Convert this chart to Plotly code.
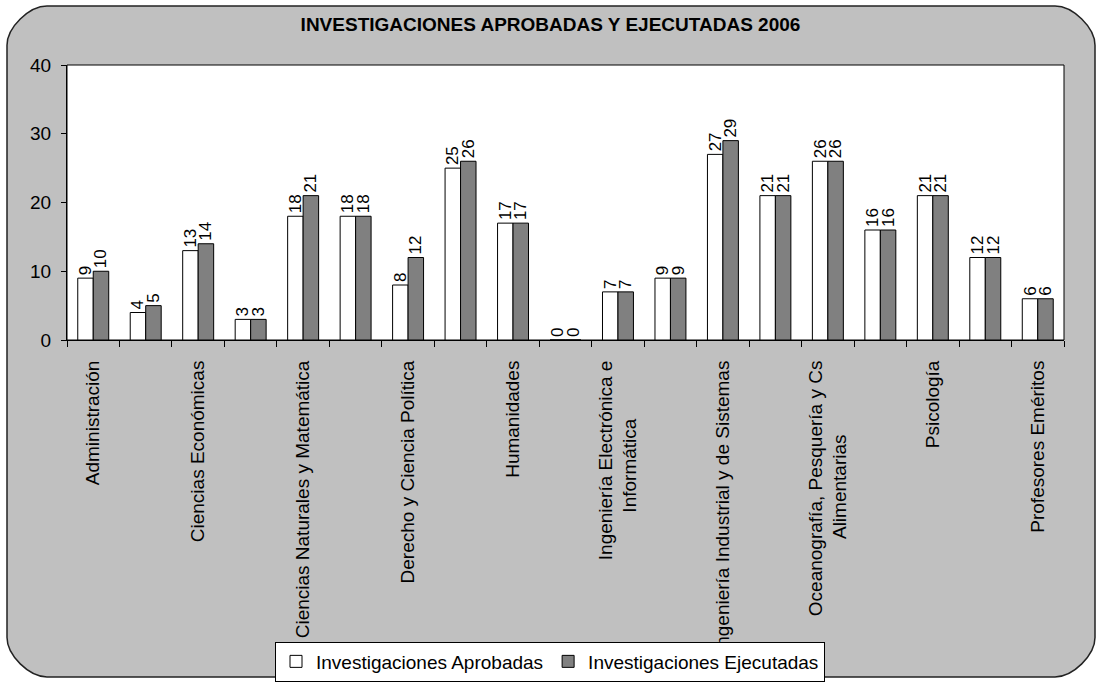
import plotly.graph_objects as go

# faculties (only every other name is printed on the axis, as in the original chart)
facultades = [
    "Administración",
    "Arquitectura y Urbanismo",
    "Ciencias Económicas",
    "Ciencias Financieras y Contables",
    "Ciencias Naturales y Matemática",
    "Ciencias Sociales",
    "Derecho y Ciencia Política",
    "Educación",
    "Humanidades",
    "Ingeniería Civil",
    "Ingeniería Electrónica e<br>Informática",
    "Ingeniería Geográfica, Ambiental y Ecoturismo",
    "Ingeniería Industrial y de Sistemas",
    "Medicina",
    "Oceanografía, Pesquería y Cs<br>Alimentarias",
    "Odontología",
    "Psicología",
    "Tecnología Médica",
    "Profesores Eméritos",
]
aprobadas = [9, 4, 13, 3, 18, 18, 8, 25, 17, 0, 7, 9, 27, 21, 26, 16, 21, 12, 6]
ejecutadas = [10, 5, 14, 3, 21, 18, 12, 26, 17, 0, 7, 9, 29, 21, 26, 16, 21, 12, 6]

FONT = "Liberation Sans, Arial, sans-serif"
GRAY_BG = "#c0c0c0"
BAR_GRAY = "#808080"

# plot area in pixels (1101 x 693 canvas)
W_FIG, H_FIG = 1101, 693
L, R, T, B = 67, 1064, 65, 345


def px(x):
    return (x - L) / (R - L)


def py(y):
    return (B - y) / (B - T)


def rounded_rect(x0, y0, x1, y1, r):
    k = 0.45 * r
    pts = [
        f"M {px(x0 + r)},{py(y0)}",
        f"L {px(x1 - r)},{py(y0)}",
        f"C {px(x1 - r + k)},{py(y0)} {px(x1)},{py(y0 + r - k)} {px(x1)},{py(y0 + r)}",
        f"L {px(x1)},{py(y1 - r)}",
        f"C {px(x1)},{py(y1 - r + k)} {px(x1 - r + k)},{py(y1)} {px(x1 - r)},{py(y1)}",
        f"L {px(x0 + r)},{py(y1)}",
        f"C {px(x0 + r - k)},{py(y1)} {px(x0)},{py(y1 - r + k)} {px(x0)},{py(y1 - r)}",
        f"L {px(x0)},{py(y0 + r)}",
        f"C {px(x0)},{py(y0 + r - k)} {px(x0 + r - k)},{py(y0)} {px(x0 + r)},{py(y0)}",
        "Z",
    ]
    return " ".join(pts)


def centered(label):
    # rotated tick labels are end-aligned; pad the short lines so they look centred
    lines = label.split("<br>")
    longest = max(len(s) for s in lines)
    return "<br>".join(s + "\u00a0" * round((longest - len(s)) * 0.85) for s in lines)


xpos = list(range(len(facultades)))

fig = go.Figure()
for name, vals, fill in [
    ("Investigaciones Aprobadas", aprobadas, "white"),
    ("Investigaciones Ejecutadas", ejecutadas, BAR_GRAY),
]:
    fig.add_trace(
        go.Bar(
            x=xpos,
            y=vals,
            name=name,
            marker=dict(color=fill, line=dict(color="black", width=1)),
            text=[str(v) for v in vals],
            textposition="outside",
            textangle=-90,
            constraintext="none",
            cliponaxis=False,
            textfont=dict(family=FONT, size=17, color="black"),
            customdata=facultades,
            hovertemplate="%{customdata}<br>%{y}<extra>" + name + "</extra>",
        )
    )

fig.update_layout(
    width=W_FIG,
    height=H_FIG,
    margin=dict(l=L, r=W_FIG - R, t=T, b=H_FIG - B, pad=0),
    paper_bgcolor="white",
    plot_bgcolor="white",
    font=dict(family=FONT, size=19, color="black"),
    barmode="group",
    bargap=0.41,
    bargroupgap=0,
    title=dict(
        text="<b>INVESTIGACIONES APROBADAS Y EJECUTADAS 2006</b>",
        x=0.5,
        xanchor="center",
        y=1 - 24 / H_FIG,
        yanchor="middle",
        font=dict(family=FONT, size=19, color="black"),
    ),
    showlegend=True,
    legend=dict(
        orientation="h",
        x=px(550),
        xanchor="center",
        y=py(652),
        yanchor="top",
        bgcolor="white",
        bordercolor="black",
        borderwidth=1,
        itemwidth=30,
        font=dict(family=FONT, size=19, color="black"),
        traceorder="normal",
    ),
    shapes=[
        dict(
            type="path",
            xref="paper",
            yref="paper",
            path=rounded_rect(7, 5, 1095, 688, 40),
            fillcolor=GRAY_BG,
            line=dict(color="#222222", width=1.5),
            layer="below",
        ),
        dict(
            type="rect",
            xref="paper",
            yref="paper",
            x0=0,
            x1=1,
            y0=0,
            y1=1,
            fillcolor="white",
            line=dict(color="black", width=1),
            layer="below",
        ),
    ],
)

fig.update_xaxes(
    range=[-0.5, len(facultades) - 0.5],
    tickmode="array",
    tickvals=xpos[::2],
    ticktext=[centered(s) for s in facultades[::2]],
    tickangle=-90,
    ticks="outside",
    ticklen=12,
    tickcolor="rgba(0,0,0,0)",
    minor=dict(
        tickmode="linear",
        tick0=-0.5,
        dtick=1,
        ticks="outside",
        ticklen=6,
        tickcolor="black",
        showgrid=False,
    ),
    showline=True,
    linecolor="black",
    linewidth=1,
    showgrid=False,
    zeroline=False,
    tickfont=dict(family=FONT, size=19, color="black"),
)
fig.update_yaxes(
    range=[0, 40],
    dtick=10,
    ticks="outside",
    ticklen=5,
    tickcolor="black",
    ticklabelstandoff=6,
    showline=True,
    linecolor="black",
    linewidth=1,
    showgrid=False,
    zeroline=False,
    tickfont=dict(family=FONT, size=19, color="black"),
)

# the page body has a default 8px margin; drop it so the chart sits at (0, 0)
fig.write_html(
    "out.html",
    config={"displayModeBar": False},
    post_script="document.body.style.margin = '0';",
)
